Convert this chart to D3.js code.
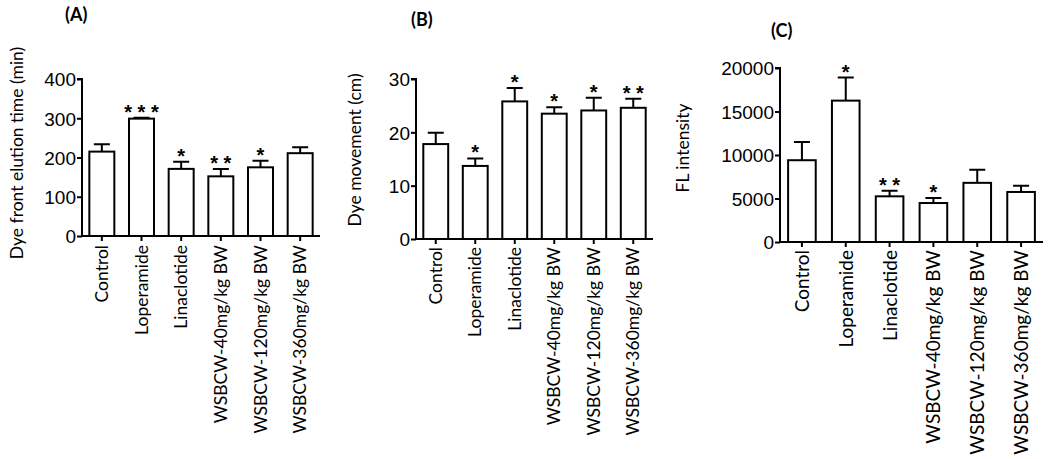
<!DOCTYPE html>
<html>
<head>
<meta charset="utf-8">
<script src="https://cdn.jsdelivr.net/npm/d3@7"></script>
<style>
  body { margin: 0; background: #fff; }
  svg { display: block; }
  .tick-label { font-family: "Liberation Sans", Arial, sans-serif; font-size: 19px; }
  .cat-label { font-family: Lato, "Open Sans", sans-serif; }
  .ylab { font-family: Lato, "Open Sans", sans-serif; font-size: 17.5px; }
  .title { font-family: Lato, "Open Sans", sans-serif; font-size: 18px; font-weight: bold; }
  .star { font-family: "Liberation Sans", Arial, sans-serif; font-size: 20px; font-weight: bold; }
</style>
</head>
<body>
<div id="chart"></div>
<script>
// groups shared by all three panels
var groups = ["Control", "Loperamide", "Linaclotide", "WSBCW-40mg/kg BW", "WSBCW-120mg/kg BW", "WSBCW-360mg/kg BW"];

// (A) dye front elution time
var elutionMean = [215, 299, 171, 152, 175, 211];
var elutionErr = [19, 2, 18, 19, 17, 15];
var elutionStars = ["", "* * *", "*", "* *", "*", ""];
var elutionTicks = [0, 100, 200, 300, 400];

// (B) dye movement
var movementMean = [17.8, 13.7, 25.8, 23.5, 24.1, 24.6];
var movementErr = [2.1, 1.4, 2.5, 1.2, 2.4, 1.7];
var movementStars = ["", "*", "*", "*", "*", "* *"];
var movementTicks = [0, 10, 20, 30];

// (C) FL intensity
var flMean = [9400, 16250, 5250, 4480, 6800, 5750];
var flErr = [2100, 2650, 650, 570, 1500, 720];
var flStars = ["", "*", "* *", "*", "", ""];
var flTicks = [0, 5000, 10000, 15000, 20000];

var svg = d3.select("#chart").append("svg")
    .attr("width", 1050)
    .attr("height", 459);

function drawPanel(p) {
  var g = svg.append("g");

  var x = d3.scaleBand().domain(groups).range([p.left, p.right]).paddingInner(0.37).paddingOuter(0.185);
  var y = d3.scaleLinear().domain([0, d3.max(p.ticks)]).range([p.bottom, p.top]);

  // y axis
  var yAxis = d3.axisLeft(y).tickValues(p.ticks).tickSize(5).tickPadding(1).tickFormat(d3.format("d"));
  var ya = g.append("g").attr("transform", "translate(" + p.left + ",0)").call(yAxis);
  ya.attr("font-size", null).attr("font-family", null);
  ya.select(".domain").attr("stroke-width", 2).attr("d", "M-5," + p.top + "H0V" + p.bottom);
  ya.selectAll(".tick line").attr("stroke-width", 2);
  ya.selectAll(".tick text").attr("class", "tick-label").attr("fill", "#000").attr("dy", "0.36em");

  // x axis
  var xAxis = d3.axisBottom(x).tickSize(5).tickSizeOuter(0).tickFormat("");
  var xa = g.append("g").attr("transform", "translate(0," + p.bottom + ")").call(xAxis);
  xa.select(".domain").attr("stroke-width", 2).attr("d", "M" + (p.left - 1) + ",0H" + p.right);
  xa.selectAll(".tick line").attr("stroke-width", 2);

  // rotated category labels
  g.selectAll(".cat-label")
      .data(groups)
    .enter().append("text")
      .attr("class", "cat-label")
      .attr("transform", function(d) {
        return "translate(" + (x(d) + x.bandwidth() / 2 + p.catShift) + "," + (p.bottom + p.catGap) + ") rotate(-90)";
      })
      .attr("text-anchor", "end")
      .attr("font-size", p.catSize)
      .text(function(d) { return d; });

  // error bars (upper only)
  var capHalf = 8;
  g.selectAll(".err")
      .data(groups)
    .enter().append("path")
      .attr("class", "err")
      .attr("fill", "none")
      .attr("stroke", "#000")
      .attr("stroke-width", 2)
      .attr("d", function(d, i) {
        var cx = x(d) + x.bandwidth() / 2;
        var top = y(p.mean[i] + p.err[i]);
        return "M" + cx + "," + y(p.mean[i]) + "V" + top + "M" + (cx - capHalf) + "," + top + "H" + (cx + capHalf);
      });

  // bars
  g.selectAll(".bar")
      .data(groups)
    .enter().append("rect")
      .attr("class", "bar")
      .attr("x", function(d) { return x(d); })
      .attr("width", x.bandwidth())
      .attr("y", function(d, i) { return y(p.mean[i]); })
      .attr("height", function(d, i) { return p.bottom - y(p.mean[i]); })
      .attr("fill", "#fff")
      .attr("stroke", "#000")
      .attr("stroke-width", 2);

  // significance stars
  g.selectAll(".star")
      .data(groups)
    .enter().append("text")
      .attr("class", "star")
      .attr("x", function(d) { return x(d) + x.bandwidth() / 2; })
      .attr("y", function(d, i) { return y(p.mean[i] + p.err[i]) + 1; })
      .attr("text-anchor", "middle")
      .text(function(d, i) { return p.stars[i]; });

  // y axis title
  g.append("text")
      .attr("class", "ylab")
      .attr("transform", "translate(" + p.ylabX + "," + p.ylabY + ") rotate(-90)")
      .attr("text-anchor", "middle")
      .text(p.ylabel);

  // panel title
  g.append("text")
      .attr("class", "title")
      .attr("x", p.titleX)
      .attr("y", p.titleY)
      .text(p.title);
}

drawPanel({
  left: 82, right: 320, top: 79, bottom: 236,
  mean: elutionMean, err: elutionErr, stars: elutionStars, ticks: elutionTicks,
  ylabel: "Dye front elution time (min)", ylabX: 23, ylabY: 153,
  title: "(A)", titleX: 65, titleY: 21,
  catSize: 17.5, catGap: 9, catShift: 6
});

drawPanel({
  left: 416, right: 653, top: 79, bottom: 239,
  mean: movementMean, err: movementErr, stars: movementStars, ticks: movementTicks,
  ylabel: "Dye movement (cm)", ylabX: 361, ylabY: 150,
  title: "(B)", titleX: 411, titleY: 26,
  catSize: 17.5, catGap: 8, catShift: 6
});

drawPanel({
  left: 780, right: 1043, top: 68, bottom: 242,
  mean: flMean, err: flErr, stars: flStars, ticks: flTicks,
  ylabel: "FL intensity", ylabX: 689, ylabY: 148,
  title: "(C)", titleX: 771, titleY: 37,
  catSize: 19, catGap: 8, catShift: 7
});
</script>
</body>
</html>
